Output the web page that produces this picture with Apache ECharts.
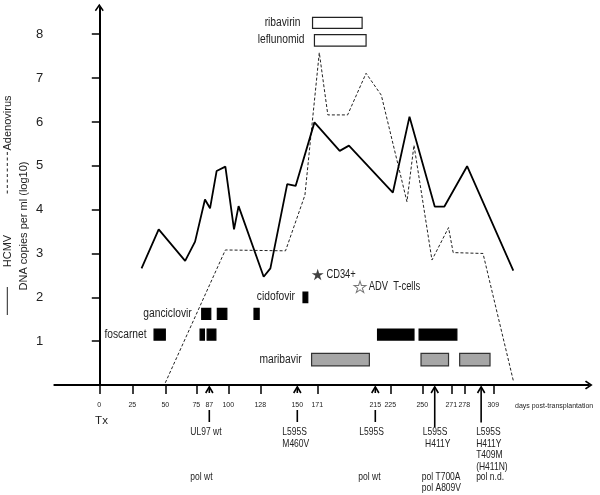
<!DOCTYPE html>
<html><head><meta charset="utf-8">
<script src="https://cdn.jsdelivr.net/npm/echarts@6/dist/echarts.min.js"></script>
<style>html,body{margin:0;padding:0;background:#fff}#c{width:600px;height:495px}</style>
</head><body><div id="c"></div>
<script>
// ---------- axis (drawn non-proportionally in the original) ----------
const tickDays     = [0, 25, 50, 75, 87, 100, 128, 150, 171, 215, 225, 250, 271, 278, 309];
const tickMarkDays = [0, 25, 50, 75, 100, 128, 171, 225, 250, 271, 278, 309];
// drawn axis slot for each labelled day (the figure's own uneven day scale)
const axisSlots    = [0, 33, 66, 97, 110, 129, 161, 198, 218, 276, 291, 323, 352, 365, 394];
const yTicks = [1, 2, 3, 4, 5, 6, 7, 8];

// ---------- viral loads (log10 DNA copies / ml) ----------
const hcmvDays = [32, 45, 66, 74, 83, 87.5, 92, 98, 105, 109, 130, 134, 144, 149, 168, 188, 195, 227, 240, 259, 266, 281, 329];
const hcmvLog  = [2.66, 3.55, 2.83, 3.27, 4.23, 4.03, 4.88, 4.98, 3.55, 4.08, 2.47, 2.66, 4.58, 4.54, 5.99, 5.34, 5.46, 4.39, 6.12, 4.07, 4.07, 4.99, 2.61];
const adenoDays = [50, 98, 143, 158, 172.5, 179, 194, 208, 219, 238, 243.5, 257, 269, 272, 298, 329];
const adenoLog  = [0.05, 3.08, 3.06, 4.33, 7.58, 6.16, 6.16, 7.11, 6.61, 4.18, 5.47, 2.85, 3.59, 3.02, 3.0, 0.1];

// ---------- treatments ----------
const drugNames  = ['ribavirin', 'leflunomid', 'cidofovir', 'ganciclovir', 'foscarnet', 'maribavir'];
const drugLevel  = [8.26, 7.86, 2.0, 1.62, 1.15, 0.58];
const ribavirinCourses   = [[166, 205]];
const leflunomidCourses  = [[168, 208]];
const cidofovirCourses   = [[156, 161]];
const ganciclovirCourses = [[80, 88], [92.5, 99], [122.5, 127]];
const foscarnetCourses   = [[41.5, 50], [78.5, 82.5], [85, 91.5], [216.5, 243.5], [247.5, 274]];
const maribavirCourses   = [[165, 210.5], [249, 269], [275.5, 305.5]];
const drugCourses = [ribavirinCourses, leflunomidCourses, cidofovirCourses, ganciclovirCourses, foscarnetCourses, maribavirCourses];

// ---------- cell therapies ----------
const cellNames = ['CD34+', 'ADV  T-cells'];
const cellDays  = [171.3, 203.4];
const cellLevel = [2.52, 2.24];

// ---------- resistance testing ----------
const testDays  = [87, 150, 215, 259, 296];
const ul97Text  = ['UL97 wt', 'L595S\nM460V', 'L595S', 'L595S\n H411Y', 'L595S\nH411Y\nT409M\n(H411N)'];
const polText   = ['pol wt', '', 'pol wt', 'pol T700A\npol A809V', 'pol n.d.'];

// ---------- styles / layout (not data) ----------
const ARIAL = "'Liberation Sans',Arial,sans-serif";
const drugStyle = [
  {fill: '#fff', stroke: '#222', h: 11, gap: 12},
  {fill: '#fff', stroke: '#222', h: 11.5, gap: 10},
  {fill: '#000', stroke: '#000', h: 10.5, gap: 8},
  {fill: '#000', stroke: '#000', h: 11, gap: 10},
  {fill: '#000', stroke: '#000', h: 11, gap: 7.5},
  {fill: '#a6a6a6', stroke: '#333', h: 12.5, gap: 10}
];
const ul97Dx = [-19, -15, -16, -12, -5];
const polDx  = [-19, 0, -17, -13, -5];
const LH = 11.6;

function warp(d) {
  const n = tickDays.length;
  if (d >= tickDays[n - 1]) return axisSlots[n - 1] + (d - tickDays[n - 1]);
  for (let i = 0; i < n - 1; i++) {
    if (d <= tickDays[i + 1]) {
      const t = (d - tickDays[i]) / (tickDays[i + 1] - tickDays[i]);
      return axisSlots[i] + t * (axisSlots[i + 1] - axisSlots[i]);
    }
  }
}

const drugData = [];
drugCourses.forEach((courses, i) => courses.forEach((c, j) => drugData.push([warp(c[0]), warp(c[1]), drugLevel[i], i, j])));

const starPath = 'path://M0,-100L22.45,-30.9L95.1,-30.9L36.3,11.8L58.8,80.9L0,38.2L-58.8,80.9L-36.3,11.8L-95.1,-30.9L-22.45,-30.9Z';
const chevron = 'path://M50,0L100,74L87,86L50,31L13,86L0,74Z';

function narrowText(x, y, text, size, sx, align, valign, lh) {
  return {type: 'text', x: x, y: y, scaleX: sx, scaleY: 1,
    style: {text: text, fontSize: size, fontFamily: ARIAL, fill: '#222', align: align, verticalAlign: valign, lineHeight: lh || size * 1.2}};
}

const chart = echarts.init(document.getElementById('c'), null, {renderer: 'canvas'});
chart.setOption({
  animation: false,
  backgroundColor: '#fff',
  grid: {left: 54.3, right: 11.2, top: 7.5, bottom: 110},
  xAxis: {
    type: 'value', min: -45, max: 489.5,
    splitLine: {show: false},
    axisLine: {lineStyle: {color: '#000', width: 2}, symbol: ['none', chevron], symbolSize: [9, 9]},
    axisTick: {show: true, customValues: tickMarkDays.map(warp), length: 9, lineStyle: {color: '#000', width: 1.5}},
    axisLabel: {
      customValues: tickDays.map(warp), margin: 17, fontSize: 7, fontFamily: ARIAL, color: '#222',
      formatter: v => { const k = axisSlots.findIndex(s => Math.abs(s - v) < 0.01); return k >= 0 ? String(tickDays[k]) : ''; }
    }
  },
  yAxis: {
    type: 'value', min: 0, max: 8.61,
    splitLine: {show: false},
    axisLine: {lineStyle: {color: '#000', width: 2}, symbol: ['none', chevron], symbolSize: [9, 9]},
    axisTick: {show: true, customValues: yTicks, length: 7.5, lineStyle: {color: '#000', width: 1.5}},
    axisLabel: {customValues: yTicks, margin: 11, fontSize: 13, fontFamily: ARIAL, color: '#222'}
  },
  graphic: [
    {type: 'text', x: 23.5, y: 226, rotation: Math.PI / 2,
     style: {text: 'DNA copies per ml (log10)', fontSize: 11, fontFamily: ARIAL, fill: '#222', align: 'center', verticalAlign: 'middle'}},
    {type: 'text', x: 7.5, y: 123, rotation: Math.PI / 2,
     style: {text: 'Adenovirus', fontSize: 11, fontFamily: ARIAL, fill: '#222', align: 'center', verticalAlign: 'middle'}},
    {type: 'text', x: 7.5, y: 251, rotation: Math.PI / 2,
     style: {text: 'HCMV', fontSize: 11, fontFamily: ARIAL, fill: '#222', align: 'center', verticalAlign: 'middle'}},
    {type: 'line', shape: {x1: 7.3, y1: 152, x2: 7.3, y2: 196}, style: {stroke: '#222', lineWidth: 1, lineDash: [3, 2.5]}},
    {type: 'line', shape: {x1: 7.3, y1: 287, x2: 7.3, y2: 315}, style: {stroke: '#222', lineWidth: 1}},
    {type: 'text', x: 101.5, y: 421, style: {text: 'Tx', fontSize: 11.5, fontFamily: ARIAL, fill: '#222', align: 'center', verticalAlign: 'middle'}},
    {type: 'text', x: 515, y: 405.7, style: {text: 'days post-transplantation', fontSize: 7, fontFamily: ARIAL, fill: '#222', align: 'left', verticalAlign: 'middle'}}
  ],
  series: [
    {
      name: 'Adenovirus', type: 'line', symbol: 'none', z: 2,
      lineStyle: {color: '#222', width: 1, type: [3, 2]},
      data: adenoDays.map((d, i) => [warp(d), adenoLog[i]])
    },
    {
      name: 'HCMV', type: 'line', symbol: 'none', z: 3,
      lineStyle: {color: '#000', width: 1.8},
      data: hcmvDays.map((d, i) => [warp(d), hcmvLog[i]])
    },
    {
      name: 'treatments', type: 'custom', z: 4,
      encode: {x: [0, 1], y: 2},
      data: drugData,
      renderItem: (params, api) => {
        const x0 = api.value(0), x1 = api.value(1), y = api.value(2), di = api.value(3), j = api.value(4);
        const a = api.coord([x0, y]), b = api.coord([x1, y]);
        const st = drugStyle[di];
        const children = [{
          type: 'rect',
          shape: {x: a[0], y: a[1] - st.h / 2, width: b[0] - a[0], height: st.h},
          style: {fill: st.fill, stroke: st.stroke, lineWidth: 1.2}
        }];
        if (j === 0) children.push(narrowText(a[0] - st.gap, a[1] - 0.5, drugNames[di], 12.5, 0.82, 'right', 'middle'));
        return {type: 'group', children};
      }
    },
    {
      name: 'cells', type: 'scatter', z: 5,
      symbol: starPath, symbolSize: [12, 11.5],
      data: cellDays.map((d, i) => ({
        value: [warp(d), cellLevel[i]],
        itemStyle: i === 0 ? {color: '#111'} : {color: '#fff', borderColor: '#555', borderWidth: 1}
      }))
    },
    {
      name: 'cell labels', type: 'custom', z: 5,
      encode: {x: 0, y: 1},
      data: cellDays.map((d, i) => [warp(d), cellLevel[i]]),
      renderItem: (params, api) => {
        const p = api.coord([api.value(0), api.value(1)]);
        return narrowText(p[0] + 8.7, p[1], cellNames[params.dataIndex], 12, 0.78, 'left', 'middle');
      }
    },
    {
      name: 'resistance', type: 'custom', z: 6,
      encode: {x: 0, y: 1},
      data: testDays.map((d, i) => [warp(d), 0, i]),
      renderItem: (params, api) => {
        const i = params.dataIndex;
        const p = api.coord([api.value(0), 0]);
        const px = p[0], py = p[1];
        const labelled = tickDays.indexOf(testDays[i]) >= 0;
        const ls = {stroke: '#000', lineWidth: 1.6};
        const ch = [
          {type: 'polyline', shape: {points: [[px - 3.6, py + 8], [px, py + 1.8], [px + 3.6, py + 8]]}, style: Object.assign({fill: null}, ls)},
          {type: 'line', shape: {x1: px, y1: py + 2, x2: px, y2: py + (labelled ? 8 : (i === 3 ? 42 : 37.5))}, style: ls}
        ];
        if (labelled) ch.push({type: 'line', shape: {x1: px, y1: py + 25, x2: px, y2: py + 37}, style: ls});
        ch.push(narrowText(px + ul97Dx[i], py + 47 - LH / 2, ul97Text[i], 11.5, 0.74, 'left', 'top', LH));
        if (polText[i]) ch.push(narrowText(px + polDx[i], py + 91.7 - 11 / 2, polText[i], 11.5, 0.74, 'left', 'top', 11));
        return {type: 'group', children: ch};
      }
    }
  ]
});
</script>
</body></html>
